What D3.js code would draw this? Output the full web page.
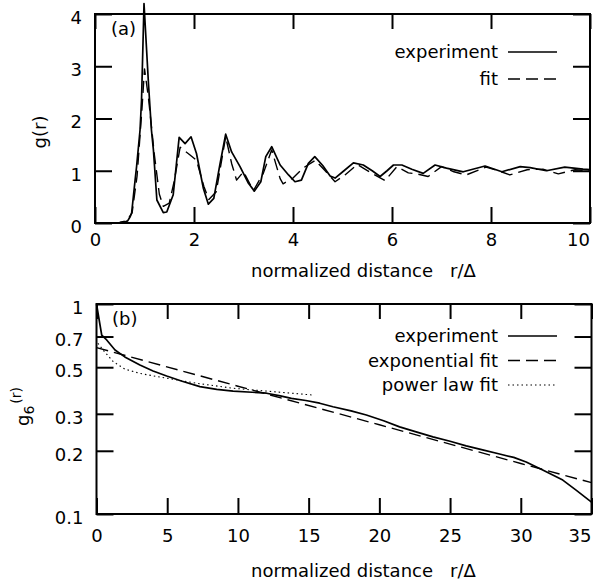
<!DOCTYPE html>
<html>
<head>
<meta charset="utf-8">
<script src="https://cdn.jsdelivr.net/npm/d3@7"></script>
<style>
  html, body { margin: 0; padding: 0; background: #fff; }
  svg text { font-family: "DejaVu Sans", sans-serif; fill: #000; }
</style>
</head>
<body>
<svg id="chart" width="605" height="583"></svg>
<script>
// ─── Data: panel (a) g(r) ─────────────────────────────────────────────────────

const A_EXP_R = [0, 0.3, 0.5, 0.6, 0.66, 0.71, 0.74, 0.81, 0.84, 0.91, 0.94, 0.99, 1.08, 1.14, 1.18, 1.25,
  1.38, 1.45, 1.58, 1.70, 1.82, 1.94, 2.05, 2.19, 2.29, 2.40, 2.52, 2.64, 2.76, 2.93, 3.10, 3.22, 3.35,
  3.45, 3.57, 3.74, 3.91, 4.04, 4.17, 4.31, 4.44, 4.60, 4.75, 4.85, 5.03, 5.22, 5.42, 5.60, 5.76, 5.90,
  6.03, 6.20, 6.40, 6.63, 6.87, 7.10, 7.44, 7.88, 8.22, 8.59, 8.79, 9.12, 9.49, 9.86, 10.0];
const A_EXP_G = [0, 0, 0.01, 0.02, 0.04, 0.12, 0.19, 0.82, 1.08, 1.78, 2.35, 4.2, 2.67, 1.78, 1.40, 0.44,
  0.20, 0.21, 0.54, 1.64, 1.52, 1.65, 1.33, 0.66, 0.36, 0.47, 1.10, 1.70, 1.36, 1.08, 0.76, 0.61, 0.79,
  1.27, 1.46, 1.11, 0.92, 0.79, 0.82, 1.14, 1.27, 1.10, 0.90, 0.86, 1.00, 1.15, 1.11, 1.00, 0.89, 1.00,
  1.11, 1.11, 1.03, 0.95, 1.11, 1.05, 0.98, 1.09, 0.98, 1.08, 1.06, 1.00, 1.07, 1.03, 1.02];

const A_FIT_R = [0, 0.5, 0.65, 0.75, 0.85, 0.95, 1.0, 1.08, 1.2, 1.3, 1.38, 1.5, 1.6, 1.72, 1.92, 2.05,
  2.2, 2.3, 2.45, 2.64, 2.76, 2.86, 3.0, 3.2, 3.4, 3.57, 3.74, 3.8, 4.0, 4.2, 4.45, 4.65, 4.85, 5.05,
  5.3, 5.42, 5.6, 5.86, 6.1, 6.33, 6.5, 6.73, 7.0, 7.25, 7.5, 7.9, 8.15, 8.38, 8.73, 9.05, 9.36, 9.7, 10];
const A_FIT_G = [0, 0.01, 0.05, 0.2, 0.9, 2.2, 2.95, 2.4, 1.3, 0.55, 0.32, 0.38, 0.8, 1.45, 1.3, 1.2,
  0.7, 0.45, 0.6, 1.65, 1.14, 0.82, 0.98, 0.62, 0.95, 1.4, 0.85, 0.75, 0.86, 1.05, 1.2, 1.0, 0.79, 0.92,
  1.12, 1.05, 0.95, 0.81, 1.08, 0.96, 0.94, 0.89, 1.08, 0.98, 0.92, 1.07, 1.0, 0.92, 1.02, 1.03, 0.94, 1.02, 1.0];

const A_X_TICKS = [0, 2, 4, 6, 8, 10];
const A_Y_TICKS = [0, 1, 2, 3, 4];

// ─── Data: panel (b) g6(r) ────────────────────────────────────────────────────

const B_EXP_R = [0, 0.37, 0.72, 1.31, 2.0, 3.07, 4.0, 4.96, 6.0, 7.31, 8.5, 9.66, 11.0, 12.02, 13.0,
  13.78, 14.8, 15.78, 16.72, 18.0, 19.08, 20.3, 21.43, 22.6, 23.79, 25.0, 26.14, 27.3, 28.5, 29.5,
  30.38, 31.55, 32.97, 33.91, 35.0];
const B_EXP_G = [1.0, 0.71, 0.674, 0.604, 0.56, 0.512, 0.48, 0.454, 0.43, 0.404, 0.392, 0.385, 0.38,
  0.376, 0.365, 0.355, 0.347, 0.337, 0.324, 0.31, 0.296, 0.278, 0.26, 0.246, 0.233, 0.222, 0.211,
  0.202, 0.193, 0.186, 0.177, 0.162, 0.145, 0.13, 0.114];

const B_EXPFIT_R = [0, 10, 20, 30, 35];
const B_EXPFIT_G = [0.62, 0.406, 0.266, 0.174, 0.141];

const B_POW_R = [0.1, 0.5, 1.19, 2.0, 3.07, 4.96, 7.0, 9.66, 12.0, 15.4];
const B_POW_G = [0.65, 0.6, 0.531, 0.49, 0.467, 0.443, 0.42, 0.397, 0.385, 0.368];

const B_X_TICKS = [0, 5, 10, 15, 20, 25, 30, 35];
const B_Y_TICKS = [0.1, 0.2, 0.3, 0.5, 0.7, 1];

// ─── Layout ───────────────────────────────────────────────────────────────────

const svg = d3.select("#chart");
const FS = 18;

const panelA = { left: 95, right: 590, top: 14, bottom: 223 };
const panelB = { left: 96.5, right: 591.5, top: 304, bottom: 514 };

const xA = d3.scaleLinear().domain([0, 10]).range([panelA.left, panelA.right]);
const yA = d3.scaleLinear().domain([0, 4]).range([panelA.bottom, panelA.top]);
const xB = d3.scaleLinear().domain([0, 35]).range([panelB.left, panelB.right]);
const yB = d3.scaleLog().domain([0.1, 1]).range([panelB.bottom, panelB.top]);

// axis with inward ticks; the domain line is dropped, the frame is drawn separately
function axis(gen, transform, fmt, dx, dy) {
  const g = svg.append("g").attr("transform", transform).call(gen);
  g.select(".domain").remove();
  g.selectAll(".tick line").attr("stroke", "#000").attr("stroke-width", 2);
  g.selectAll(".tick text").attr("font-size", FS).attr("font-family", "DejaVu Sans, sans-serif");
  if (fmt === "") g.selectAll(".tick text").remove();
  if (dy) g.selectAll(".tick text").attr("dy", dy);
  if (dx) g.selectAll(".tick text").filter((d, i, n) => i === n.length - 1).attr("dx", dx);
  return g;
}

function drawPanel(p, x, y, xTicks, yTicks, yFmt, xPad) {
  svg.append("path")
    .attr("d", `M${p.left},${p.top}H${p.right}V${p.bottom}H${p.left}Z`)
    .attr("fill", "none").attr("stroke", "#000").attr("stroke-width", 2);

  axis(d3.axisBottom(x).tickValues(xTicks).tickSizeInner(-16).tickSizeOuter(0).tickPadding(xPad),
    `translate(0,${p.bottom})`, null, -12, null);
  axis(d3.axisTop(x).tickValues(xTicks).tickSizeInner(-15).tickSizeOuter(0),
    `translate(0,${p.top})`, "", null, null);
  axis(d3.axisLeft(y).tickValues(yTicks).tickSizeInner(-17).tickSizeOuter(0).tickPadding(13).tickFormat(yFmt),
    `translate(${p.left},0)`, null, null, "0.52em");
  axis(d3.axisRight(y).tickValues(yTicks).tickSizeInner(-17).tickSizeOuter(0).tickFormat(yFmt),
    `translate(${p.right},0)`, "", null, null);
}

function drawLine(xs, ys, x, y, dash, width) {
  const pts = xs.map((r, i) => [r, ys[i]]);
  svg.append("path")
    .datum(pts)
    .attr("d", d3.line().x(d => x(d[0])).y(d => y(d[1])))
    .attr("fill", "none")
    .attr("stroke", "#000")
    .attr("stroke-width", width)
    .attr("stroke-linejoin", "round")
    .attr("stroke-dasharray", dash);
}

function legendRow(label, baseline, dash, width) {
  svg.append("text").attr("x", 498).attr("y", baseline)
    .attr("text-anchor", "end").attr("font-size", FS).text(label);
  svg.append("line")
    .attr("x1", 508).attr("x2", 557)
    .attr("y1", baseline - 6).attr("y2", baseline - 6)
    .attr("stroke", "#000").attr("stroke-width", width)
    .attr("stroke-dasharray", dash);
}

function xLabel(baseline) {
  const t = svg.append("text").attr("y", baseline).attr("font-size", FS);
  t.append("tspan").attr("x", 251).text("normalized distance");
  t.append("tspan").attr("x", 450).text("r/Δ");
}

// ─── Panel (a) ────────────────────────────────────────────────────────────────

drawPanel(panelA, xA, yA, A_X_TICKS, A_Y_TICKS, d3.format("d"), 10);
drawLine(A_FIT_R, A_FIT_G, xA, yA, "12,6", 1.4);
drawLine(A_EXP_R, A_EXP_G, xA, yA, null, 1.7);

svg.append("text").attr("x", 111).attr("y", 35).attr("font-size", FS).text("(a)");
svg.append("text")
  .attr("transform", "translate(46,132) rotate(-90)")
  .attr("text-anchor", "middle").attr("font-size", FS).text("g(r)");
xLabel(277);

legendRow("experiment", 58, null, 1.5);
legendRow("fit", 85, "12,6", 1.4);

// ─── Panel (b) ────────────────────────────────────────────────────────────────

drawPanel(panelB, xB, yB, B_X_TICKS, B_Y_TICKS, d => String(d), 15);
drawLine(B_POW_R, B_POW_G, xB, yB, "1.5,3", 1.1);
drawLine(B_EXPFIT_R, B_EXPFIT_G, xB, yB, "12,6", 1.4);
drawLine(B_EXP_R, B_EXP_G, xB, yB, null, 1.7);

svg.append("text").attr("x", 112).attr("y", 325).attr("font-size", FS).text("(b)");

const gl = svg.append("text")
  .attr("transform", "translate(29,426) rotate(-90)")
  .attr("font-size", FS);
gl.append("tspan").text("g");
gl.append("tspan").attr("font-size", 14).attr("dy", 5).text("6");
gl.append("tspan").attr("font-size", 14).attr("dy", -13).attr("dx", 2).text("(r)");

xLabel(577);

legendRow("experiment", 342, null, 1.5);
legendRow("exponential fit", 366.5, "12,6", 1.4);
legendRow("power law fit", 391, "1.5,3", 1.1);
</script>
</body>
</html>
